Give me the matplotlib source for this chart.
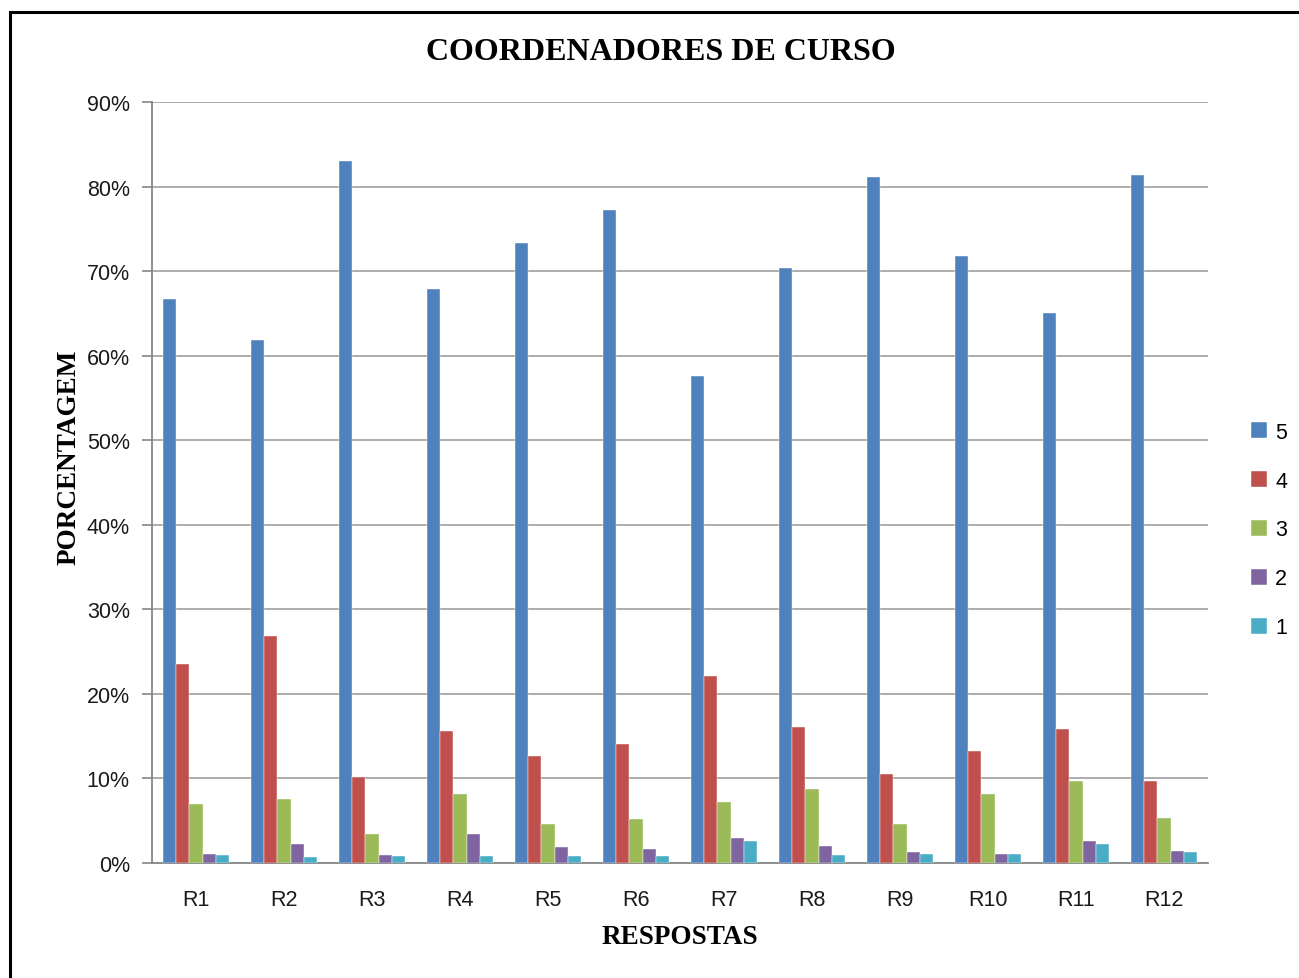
import matplotlib
matplotlib.use("Agg")
import matplotlib.pyplot as plt
import numpy as np
from matplotlib.patches import Rectangle
from matplotlib.ticker import PercentFormatter

categories = ["R1", "R2", "R3", "R4", "R5", "R6", "R7", "R8", "R9", "R10", "R11", "R12"]
series_names = ["5", "4", "3", "2", "1"]
s5 = [66.7, 61.8, 83.0, 67.9, 73.3, 77.2, 57.6, 70.4, 81.1, 71.8, 65.0, 81.4]
s4 = [23.5, 26.8, 10.2, 15.6, 12.6, 14.1, 22.1, 16.1, 10.5, 13.2, 15.8, 9.7]
s3 = [7.0, 7.6, 3.4, 8.2, 4.6, 5.2, 7.2, 8.8, 4.6, 8.2, 9.7, 5.3]
s2 = [1.1, 2.3, 1.0, 3.4, 1.9, 1.6, 2.9, 2.0, 1.3, 1.1, 2.6, 1.4]
s1 = [0.9, 0.7, 0.8, 0.8, 0.8, 0.8, 2.6, 0.9, 1.1, 1.1, 2.3, 1.3]
colors = ["#4F81BD", "#C0504D", "#9BBB59", "#8064A2", "#4BACC6"]

W, H = 1299, 979
fig = plt.figure(figsize=(W / 100, H / 100), dpi=100)
fig.patch.set_facecolor("white")

# chart outer border
fig.patches.append(Rectangle((10 / W, -0.05), 1.1, (979 - 13) / H + 0.05,
                             transform=fig.transFigure, fill=False,
                             edgecolor="black", linewidth=2.2, zorder=0))

ax = fig.add_axes([152 / W, (H - 864) / H, (1208 - 152) / W, (864 - 103) / H])

data = [s5, s4, s3, s2, s1]
x = np.arange(len(categories))
bw = 0.152
for i, (vals, name, c) in enumerate(zip(data, series_names, colors)):
    ax.bar(x + (i - 2) * bw, vals, width=bw, color=c, label=name,
           edgecolor="white", linewidth=0.3, zorder=3)

ax.set_xlim(-0.5, len(categories) - 0.5)
ax.set_ylim(0, 90)
ax.set_yticks(np.arange(0, 91, 10))
ax.yaxis.set_major_formatter(PercentFormatter(decimals=0))
ax.set_xticks(x)
ax.set_xticklabels(categories)

ax.grid(axis="y", color="#A6A6A6", linewidth=1.3, zorder=0)
ax.set_axisbelow(True)
for sp in ["top", "right"]:
    ax.spines[sp].set_visible(False)
for sp in ["left", "bottom"]:
    ax.spines[sp].set_color("#868686")
    ax.spines[sp].set_linewidth(1.3)

tick_font = "Liberation Sans"
ax.tick_params(axis="y", length=7, width=1.2, color="#868686", pad=9,
               labelsize=15.5, labelcolor="#1a1a1a")
ax.tick_params(axis="x", length=0, pad=19, labelsize=15.5, labelcolor="#1a1a1a")
for lab in ax.get_xticklabels() + ax.get_yticklabels():
    lab.set_fontfamily(tick_font)

fig.text(661 / W, 1 - 52 / H, "COORDENADORES DE CURSO", ha="center", va="center",
         fontsize=23, fontweight="bold", family="Liberation Serif")
fig.text(69 / W, 1 - 457 / H, "PORCENTAGEM", ha="center", va="center", rotation=90,
         fontsize=19.5, fontweight="bold", family="Liberation Serif")
fig.text(680 / W, 1 - 938 / H, "RESPOSTAS", ha="center", va="center",
         fontsize=19.5, fontweight="bold", family="Liberation Serif")

leg = ax.legend(loc="center left", bbox_to_anchor=(1.022, 0.4376), frameon=False,
                prop={"family": tick_font, "size": 15.5}, handlelength=0.75,
                handleheight=0.75, handletextpad=0.4, labelspacing=1.3)

fig.savefig("out.png", dpi=100)
